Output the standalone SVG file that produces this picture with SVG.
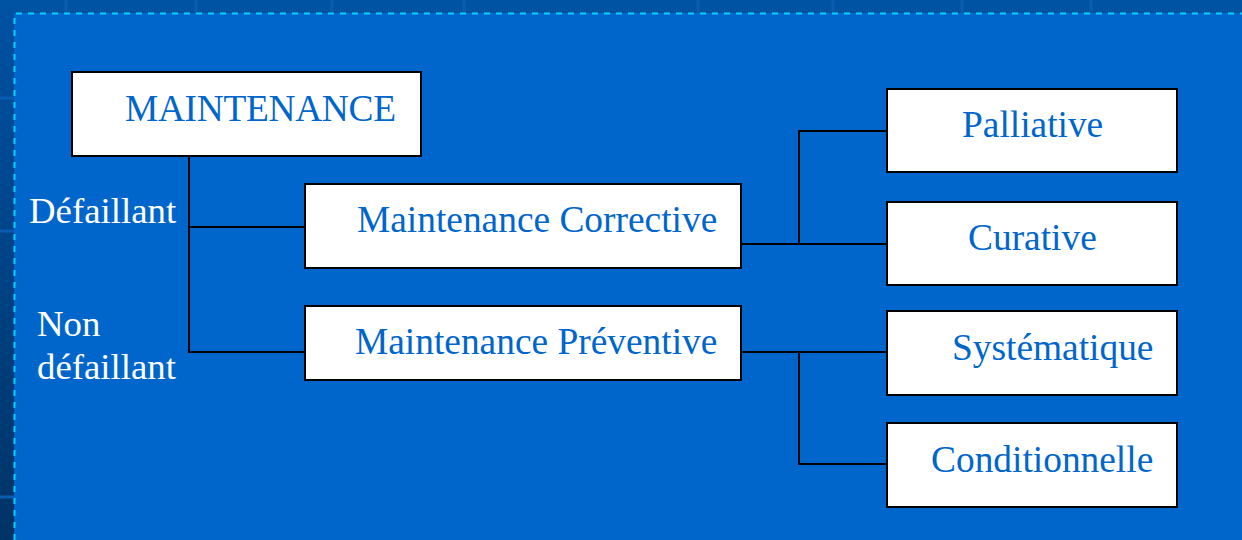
<svg xmlns="http://www.w3.org/2000/svg" width="1242" height="540" viewBox="0 0 1242 540">
  <defs>
    <linearGradient id="sideBand" x1="0" y1="0" x2="0" y2="1">
      <stop offset="0" stop-color="#0052A3"/>
      <stop offset="1" stop-color="#003366"/>
    </linearGradient>
    <style>
      .box { fill: #FFFFFF; stroke: #000000; stroke-width: 2; }
      .wire { fill: none; stroke: #000000; stroke-width: 2; }
      .label { font-family: "Liberation Serif", "Times New Roman", serif; font-size: 37.4px; fill: #0066CC; }
      .side { font-family: "Liberation Serif", "Times New Roman", serif; font-size: 36.8px; fill: #FFFFFF; }
      .grid { stroke: #0A5CB0; stroke-width: 3; }
    </style>
  </defs>

  <!-- slide background -->
  <rect x="0" y="0" width="1242" height="540" fill="#0066CC"/>
  <rect x="0" y="0" width="1242" height="13" fill="#0052A3"/>
  <rect x="0" y="0" width="14" height="540" fill="url(#sideBand)"/>
  <g class="grid">
    <line x1="66" y1="0" x2="66" y2="13"/>
    <line x1="196" y1="0" x2="196" y2="13"/>
    <line x1="332" y1="0" x2="332" y2="13"/>
    <line x1="464" y1="0" x2="464" y2="13"/>
    <line x1="698" y1="0" x2="698" y2="13"/>
    <line x1="833" y1="0" x2="833" y2="13"/>
    <line x1="962" y1="0" x2="962" y2="13"/>
    <line x1="1091" y1="0" x2="1091" y2="13"/>
    <line x1="0" y1="98" x2="14" y2="98"/>
    <line x1="0" y1="231" x2="14" y2="231"/>
    <line x1="0" y1="497" x2="14" y2="497"/>
  </g>
  <path d="M14.5,540 V13.5 H1242" fill="none" stroke="#00D4FF" stroke-width="2" stroke-dasharray="6 6"/>

  <!-- connectors -->
  <g id="connectors" class="wire">
    <path d="M189,156 V352 H305"/>
    <path d="M189,227 H305"/>
    <path d="M741,244 H887"/>
    <path d="M887,131 H799 V244"/>
    <path d="M741,352 H887"/>
    <path d="M799,352 V464 H887"/>
  </g>

  <!-- nodes -->
  <g id="maintenance">
    <rect class="box" x="72" y="72" width="349" height="84"/>
    <text class="label" x="125" y="121" textLength="271">MAINTENANCE</text>
  </g>
  <g id="corrective">
    <rect class="box" x="305" y="184" width="436" height="84"/>
    <text class="label" x="357" y="232">Maintenance Corrective</text>
  </g>
  <g id="preventive">
    <rect class="box" x="305" y="306" width="436" height="74"/>
    <text class="label" x="355" y="354">Maintenance Préventive</text>
  </g>
  <g id="palliative">
    <rect class="box" x="887" y="89" width="290" height="83"/>
    <text class="label" x="962" y="137">Palliative</text>
  </g>
  <g id="curative">
    <rect class="box" x="887" y="202" width="290" height="83"/>
    <text class="label" x="968" y="250">Curative</text>
  </g>
  <g id="systematique">
    <rect class="box" x="887" y="311" width="290" height="84"/>
    <text class="label" x="952" y="360">Systématique</text>
  </g>
  <g id="conditionnelle">
    <rect class="box" x="887" y="423" width="290" height="84"/>
    <text class="label" x="931" y="472">Conditionnelle</text>
  </g>

  <!-- branch labels -->
  <g id="branch-labels">
    <text class="side" x="29" y="223">Défaillant</text>
    <text class="side" x="37" y="336">Non</text>
    <text class="side" x="37" y="379">défaillant</text>
  </g>
</svg>
